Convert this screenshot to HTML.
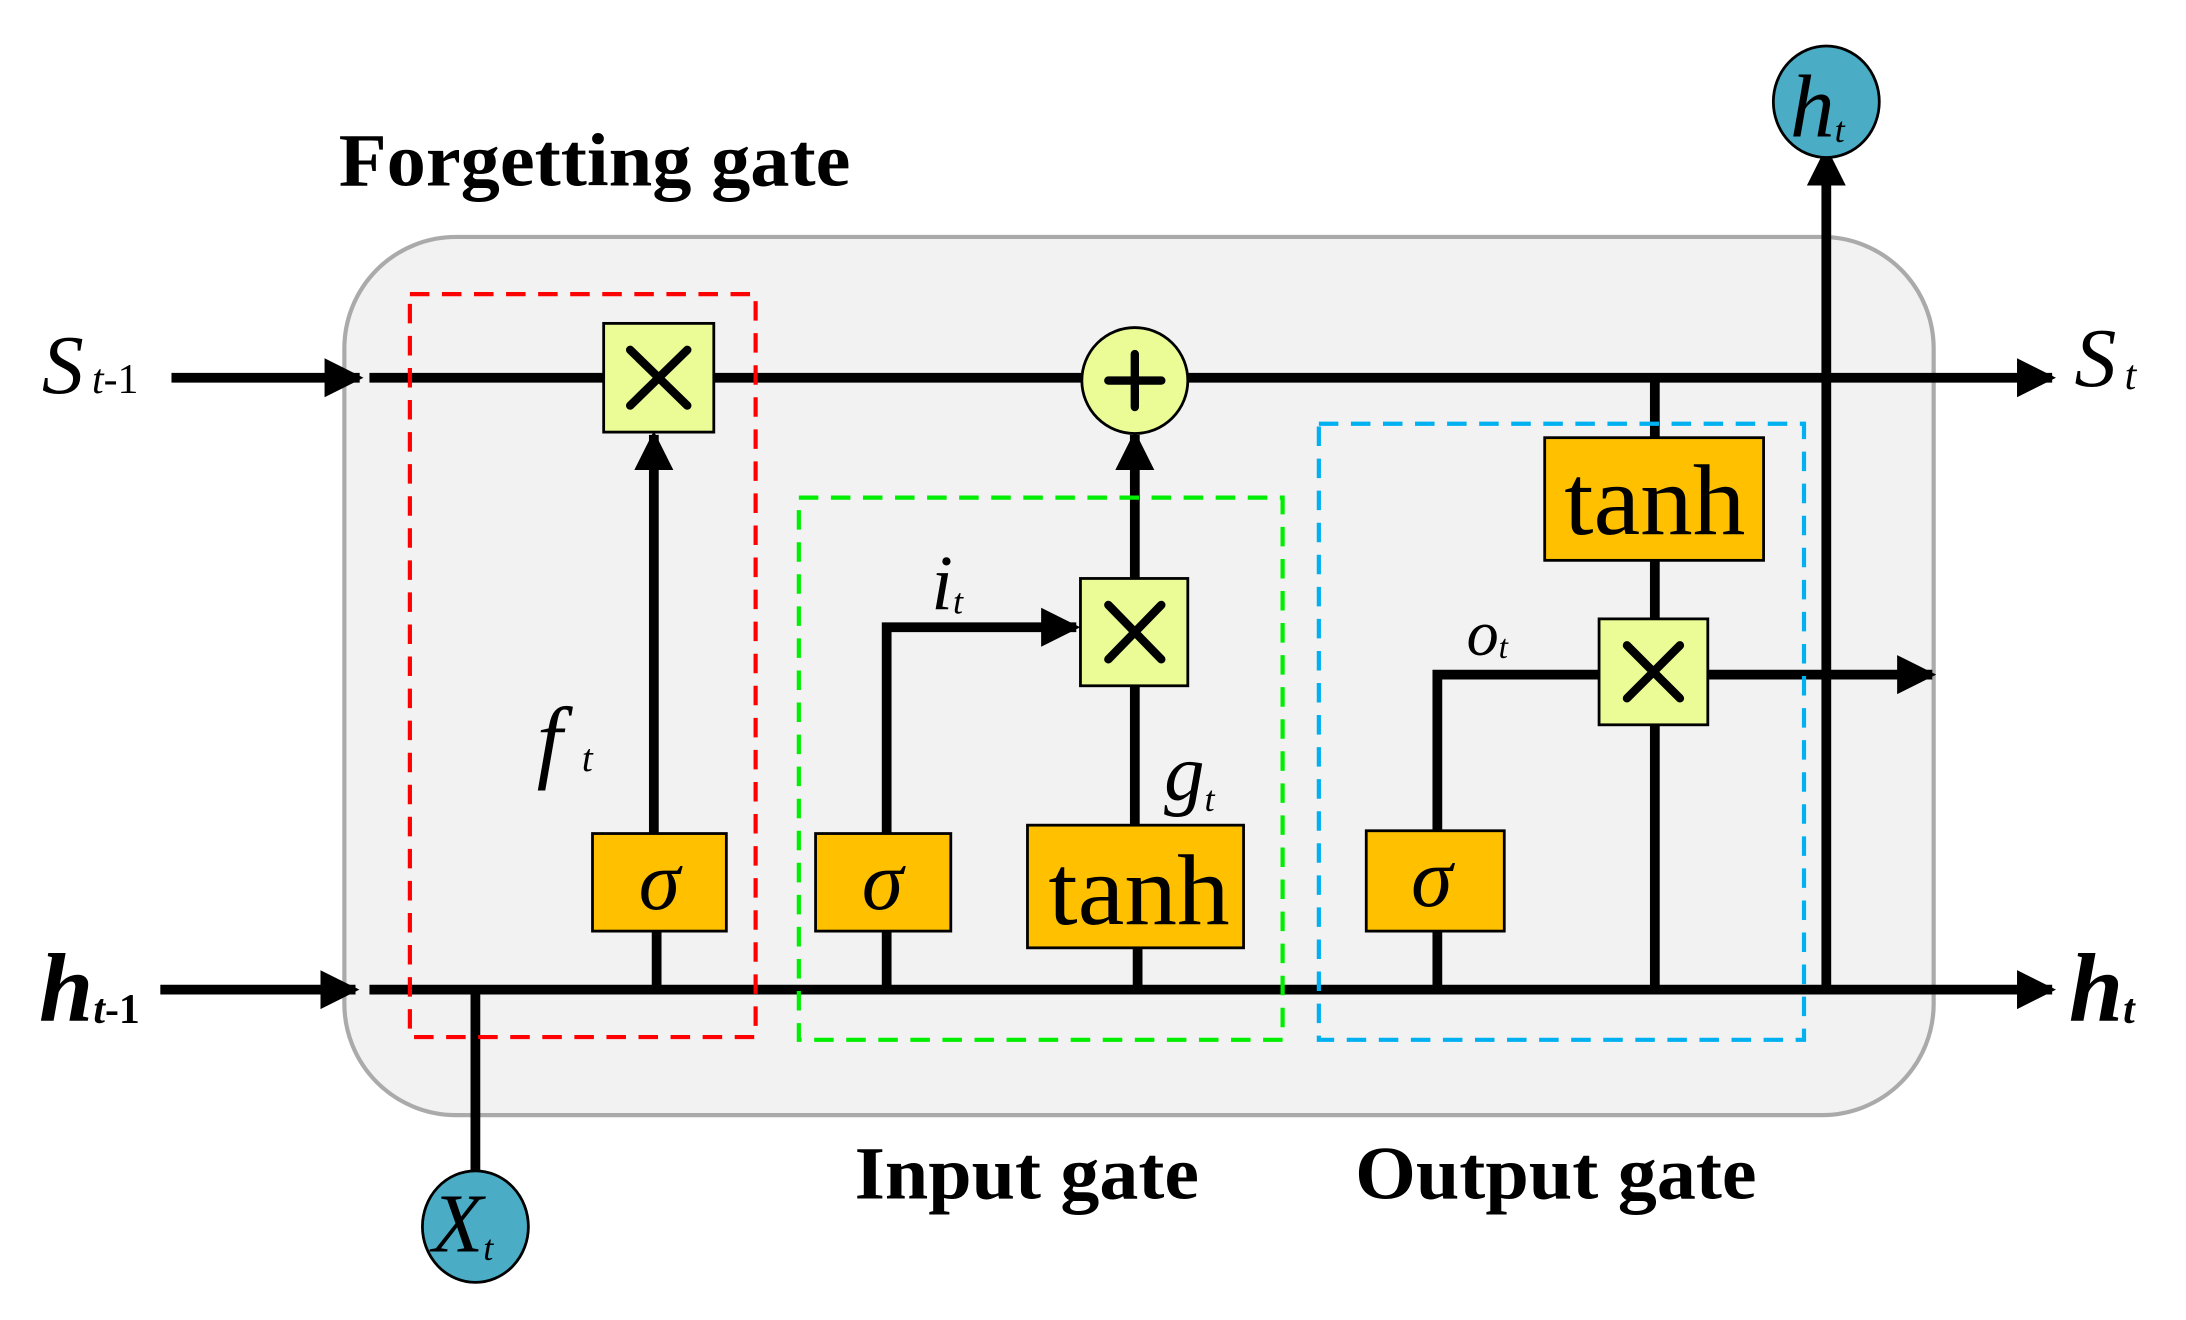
<!DOCTYPE html>
<html><head><style>html,body{margin:0;padding:0;background:#fff}svg{display:block}</style></head>
<body>
<svg width="2186" height="1320" viewBox="0 0 1568 947" preserveAspectRatio="none" xmlns="http://www.w3.org/2000/svg" font-family="'Liberation Serif', serif">
<defs>
<marker id="a" viewBox="0 0 10 10" refX="9" refY="5" markerWidth="4" markerHeight="4" markerUnits="strokeWidth" orient="auto"><path d="M0,0 L10,5 L0,10 z" fill="#000"/></marker>
</defs>
<rect x="247" y="170" width="1140" height="630" rx="80" fill="#f2f2f2" stroke="#aaa" stroke-width="3"/>
<text x="243" y="133" font-size="54" font-weight="bold" textLength="367" lengthAdjust="spacingAndGlyphs">Forgetting gate</text>
<text x="613" y="860" font-size="54" font-weight="bold" textLength="247" lengthAdjust="spacingAndGlyphs">Input gate</text>
<text x="972" y="860" font-size="54" font-weight="bold" textLength="288" lengthAdjust="spacingAndGlyphs">Output gate</text>
<g stroke="#000" stroke-width="7" fill="none">
<line x1="123" y1="271" x2="258" y2="271" marker-end="url(#a)"/>
<line x1="265" y1="271" x2="1472" y2="271" marker-end="url(#a)"/>
<line x1="115" y1="710" x2="255" y2="710" marker-end="url(#a)"/>
<line x1="265" y1="710" x2="1472" y2="710" marker-end="url(#a)"/>
<line x1="341" y1="710" x2="341" y2="845"/>
<line x1="1310" y1="710" x2="1310" y2="108" marker-end="url(#a)"/>
<line x1="471" y1="710" x2="471" y2="668"/>
<line x1="469" y1="598" x2="469" y2="312" marker-end="url(#a)"/>
<line x1="636" y1="710" x2="636" y2="668"/>
<polyline points="636,598 636,450 772,450" marker-end="url(#a)"/>
<line x1="816" y1="710" x2="816" y2="680"/>
<line x1="814" y1="592" x2="814" y2="492"/>
<line x1="814" y1="415" x2="814" y2="312" marker-end="url(#a)"/>
<polyline points="1031,710 1031,484 1147,484"/>
<line x1="1225" y1="484" x2="1386" y2="484" marker-end="url(#a)"/>
<line x1="1187" y1="271" x2="1187" y2="710"/>
</g>
<g fill="none" stroke-width="3" stroke-dasharray="14,9">
<rect x="294" y="211" width="248" height="533" stroke="#ff0000"/>
<rect x="573" y="357" width="347" height="389" stroke="#00ee00"/>
<rect x="946" y="304" width="348" height="442" stroke="#00b0f0"/>
</g>
<g stroke="#000" stroke-width="2" fill="#ffc000">
<rect x="425" y="598" width="96" height="70"/>
<rect x="585" y="598" width="97" height="70"/>
<rect x="737" y="592" width="155" height="88"/>
<rect x="980" y="596" width="99" height="72"/>
<rect x="1108" y="314" width="157" height="88"/>
</g>
<g stroke="#000" stroke-width="2" fill="#ebfb96">
<rect x="433" y="232" width="79" height="78"/>
<rect x="775" y="415" width="77" height="77"/>
<rect x="1147" y="444" width="78" height="76"/>
<circle cx="814" cy="273" r="38"/>
</g>
<g stroke="#000" stroke-width="6" stroke-linecap="round">
<path d="M452,251 L493,291 M493,251 L452,291"/>
<path d="M795,434 L833,473 M833,434 L795,473"/>
<path d="M1167,463 L1205,501 M1205,463 L1167,501"/>
<path d="M795,273 L833,273 M814,254 L814,292"/>
</g>
<g font-size="60" text-anchor="middle" fill="#000">
<text x="473" y="652" font-style="italic">σ</text>
<text x="633" y="652" font-style="italic">σ</text>
<text x="1027" y="650" font-style="italic">σ</text>
<text x="817" y="663" font-size="72" textLength="130" lengthAdjust="spacingAndGlyphs">tanh</text>
<text x="1187" y="383" font-size="72" textLength="130" lengthAdjust="spacingAndGlyphs">tanh</text>
</g>
<g stroke="#000" stroke-width="2" fill="#4bacc6">
<ellipse cx="341" cy="880" rx="38" ry="40"/>
<ellipse cx="1310" cy="73" rx="38" ry="40"/>
</g>
<g font-style="italic" fill="#000">
<text x="310" y="898" font-size="60">X<tspan font-size="26" dy="6">t</tspan></text>
<text x="1284" y="98" font-size="64">h<tspan font-size="26" dy="4">t</tspan></text>
<text x="30" y="282" font-size="60">S<tspan font-size="30" dy="0" dx="6">t</tspan><tspan font-size="30" font-style="normal">-1</tspan></text>
<text x="1488" y="277" font-size="60">S<tspan font-size="30" dx="6" dy="2">t</tspan></text>
<text x="28" y="732" font-size="70" font-weight="bold">h<tspan font-size="30" dy="2">t</tspan><tspan font-size="30" font-style="normal">-1</tspan></text>
<text x="1484" y="732" font-size="70" font-weight="bold">h<tspan font-size="30" dy="2">t</tspan></text>
<text x="385" y="553" font-size="66">f<tspan font-size="28" dx="14">t</tspan></text>
<text x="668" y="437" font-size="56">i<tspan font-size="26" dy="3">t</tspan></text>
<text x="835" y="574" font-size="58">g<tspan font-size="26" dy="8">t</tspan></text>
<text x="1052" y="470" font-size="46">o<tspan font-size="24" dy="2">t</tspan></text>
</g>
</svg>
</body></html>
